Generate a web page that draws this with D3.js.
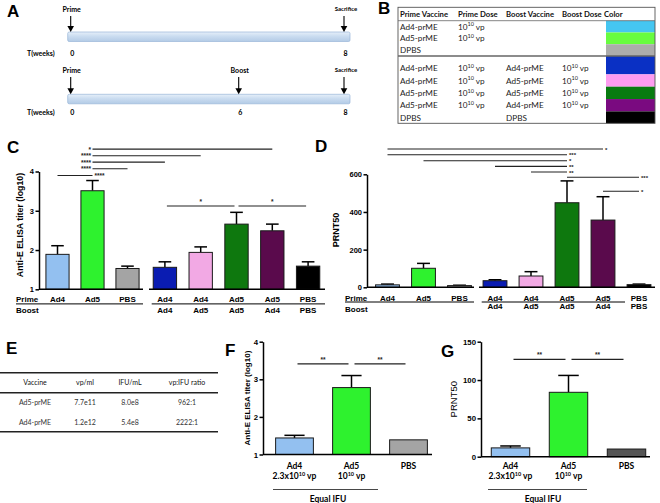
<!DOCTYPE html>
<html><head><meta charset="utf-8">
<script src="https://cdn.jsdelivr.net/npm/d3@7"></script>
<style>body{margin:0;background:#fff} svg{display:block}</style>
</head><body>
<svg id="fig" width="660" height="503"></svg>
<script>
// ================= DATA =================
// Panel A: timelines (weeks)
const weeksA = [0, 6, 8];
const timelinePrime = [{label:"Prime", week:0}, {label:"Sacrifice", week:8}];
const timelineBoost = [{label:"Prime", week:0}, {label:"Boost", week:6}, {label:"Sacrifice", week:8}];
const ticksPrime = [0, 8];
const ticksBoost = [0, 6, 8];

// Panel B: table of groups
const tableBHeader = ["Prime Vaccine", "Prime Dose", "Boost Vaccine", "Boost Dose", "Color"];
const tableBPrimeVac = ["Ad4-prME", "Ad5-prME", "DPBS", "Ad4-prME", "Ad4-prME", "Ad5-prME", "Ad5-prME", "DPBS"];
const tableBPrimeDose = ["10^10 vp", "10^10 vp", "", "10^10 vp", "10^10 vp", "10^10 vp", "10^10 vp", ""];
const tableBBoostVac = ["", "", "", "Ad4-prME", "Ad5-prME", "Ad5-prME", "Ad4-prME", "DPBS"];
const tableBBoostDose = ["", "", "", "10^10 vp", "10^10 vp", "10^10 vp", "10^10 vp", ""];
const tableBColors = ["#45c6f1", "#68fc40", "#acacac", "#0a30c4", "#fd9cf0", "#087b10", "#7a0a80", "#000000"];

// Panel C: anti-E ELISA titer (log10)
const primeSingle = ["Ad4", "Ad5", "PBS"];
const elisaSingle = [1.89, 3.51, 1.53];
const elisaSingleSem = [0.22, 0.26, 0.06];
const primePB = ["Ad4", "Ad4", "Ad5", "Ad5", "PBS"];
const boostPB = ["Ad4", "Ad5", "Ad5", "Ad4", "PBS"];
const elisaPB = [1.56, 1.94, 2.66, 2.49, 1.59];
const elisaPBSem = [0.14, 0.14, 0.30, 0.17, 0.11];
const colorsSingle = ["#93c0f0", "#2ef22e", "#a4a4a4"];
const colorsPB = ["#0a1cb2", "#f2a9e4", "#0e780e", "#5a0a4c", "#000000"];
const ticksC = [1, 2, 3, 4];
// significance: [fromBar, toBar, label, level, labelSide]
const sigC = [
  [1, 6, "*", 4.57, "left"],
  [1, 4, "****", 4.40, "left"],
  [1, 3, "****", 4.24, "left"],
  [1, 2, "****", 4.07, "left"],
  [0, 1, "****", 3.90, "right"],
  [3, 5, "*", 3.12, "top"],
  [5, 7, "*", 3.12, "top"]
];

// Panel D: PRNT50
const prntSingle = [13, 101, 9];
const prntSingleSem = [4, 26, 2];
const prntPB = [35, 60, 449, 357, 14];
const prntPBSem = [5, 23, 116, 124, 3];
const ticksD = [0, 200, 400, 600];
const sigD = [
  [0, 6, "*", 734, "right"],
  [0, 5, "***", 704, "right"],
  [1, 5, "*", 672, "right"],
  [3, 5, "**", 642, "right"],
  [4, 5, "**", 612, "right"],
  [5, 7, "***", 584, "right"],
  [6, 7, "*", 510, "right"]
];

// Panel E: vector titers
const tableEHeader = ["Vaccine", "vp/ml", "IFU/mL", "vp:IFU ratio"];
const tableERows = [
  ["Ad5-prME", "7.7e11", "8.0e8", "962:1"],
  ["Ad4-prME", "1.2e12", "5.4e8", "2222:1"]
];

// Panels F & G: equal IFU
const groupsEqual = ["Ad4", "Ad5", "PBS"];
const dosesEqual = ["2.3x10^10 vp", "10^10 vp", ""];
const colorsF = ["#93c0f0", "#2ef22e", "#a4a4a4"];
const colorsG = ["#93c0f0", "#2ef22e", "#555555"];
const elisaEqual = [1.44, 2.78, 1.39];
const elisaEqualSem = [0.07, 0.32, 0];
const prntEqual = [11.5, 84, 10];
const prntEqualSem = [2.5, 22, 0];
const ticksF = [1, 2, 3, 4];
const ticksG = [0, 50, 100, 150];
const sigF = [[0, 1, "**", 3.41, "top"], [1, 2, "**", 3.41, "top"]];
const sigG = [[0, 1, "**", 127, "top"], [1, 2, "**", 127, "top"]];

// ================= DRAWING =================
const svg = d3.select("#fig");
const FA = "'Liberation Sans', Arial, sans-serif";
const FC = "Lato, 'Open Sans', sans-serif";

function txt(x, y, s, o = {}) {
  const t = svg.append("text").attr("x", x).attr("y", y)
    .attr("font-family", o.family || FA)
    .attr("font-size", o.size || 8)
    .attr("font-weight", o.weight || "normal")
    .attr("fill", o.fill || "#000")
    .attr("text-anchor", o.anchor || "start");
  if (o.rotate) t.attr("transform", `rotate(${o.rotate},${x},${y})`);
  if (o.ls) t.attr("letter-spacing", o.ls);
  rich(t, s, o.supSize || (o.size || 8) * 0.7);
  return t;
}
function rich(sel, str, supSize) {
  const parts = str.split(/\^(\d+)/);
  let shifted = false;
  parts.forEach((p, i) => {
    if (p === "") return;
    const t = sel.append("tspan").text(p);
    if (i % 2 === 1) { t.attr("font-size", supSize).attr("dy", -3.2); shifted = true; }
    else if (shifted) { t.attr("dy", 3.2); shifted = false; }
  });
}
function line(x1, y1, x2, y2, w = 1, c = "#000") {
  return svg.append("line").attr("x1", x1).attr("y1", y1).attr("x2", x2).attr("y2", y2)
    .attr("stroke", c).attr("stroke-width", w);
}

// ---- panel letters
[["A", 7, 17], ["B", 378, 14], ["C", 7, 153], ["D", 315, 152], ["E", 6, 354], ["F", 225, 356], ["G", 441, 357]]
  .forEach(([l, x, y]) => txt(x, y, l, {size: 17, weight: "bold"}));

// ---- Panel A
const defs = svg.append("defs");
const grad = defs.append("linearGradient").attr("id", "tlGrad").attr("x1", 0).attr("x2", 0).attr("y1", 0).attr("y2", 1);
grad.append("stop").attr("offset", "0%").attr("stop-color", "#e6eff9");
grad.append("stop").attr("offset", "45%").attr("stop-color", "#cadcf0");
grad.append("stop").attr("offset", "100%").attr("stop-color", "#b3cbe6");
const xA = d3.scaleLinear().domain(weeksA).range([70.7, 238.7, 344]);

function timeline(events, ticks, yLab, yBar, yWeeks) {
  svg.append("rect").attr("x", xA(0) - 3).attr("y", yBar).attr("width", xA(8) + 6 - (xA(0) - 3)).attr("height", 9.5)
    .attr("fill", "url(#tlGrad)").attr("stroke", "#9ab6d8").attr("stroke-width", 0.7).attr("rx", 1.5);
  events.forEach(e => {
    const x = xA(e.week);
    const sac = e.label === "Sacrifice";
    txt(x + (sac ? 2 : 1), yLab + (sac ? 0 : 1), e.label, {family: FC, size: sac ? 6 : 7, weight: "bold", anchor: "middle"});
    const y0 = yLab + 5, y1 = yBar;
    line(x, y0, x, y1 - 5, 1.1);
    svg.append("path").attr("d", `M${x - 3.3},${y1 - 6}L${x + 3.3},${y1 - 6}L${x},${y1}Z`).attr("fill", "#000");
  });
  txt(27, yWeeks + 2.5, "T(weeks)", {family: FC, size: 7, weight: "bold"});
  ticks.forEach(w => txt(xA(w) + 1.5, yWeeks + 2.5, String(w), {family: FC, size: 7, weight: "bold", anchor: "middle"}));
}
timeline(timelinePrime, ticksPrime, 11, 32, 53);
timeline(timelineBoost, ticksBoost, 72, 94.3, 112);

// ---- Panel B
(function () {
  const L = 398, R = 655, T = 7.3, B = 123.3, colX = [400, 458, 506, 562], colorX = 606;
  const hdrBottom = 20.7, sep = 56;
  const g1H = (sep - hdrBottom) / 3;
  const rowsTop = [], rowsBot = [], textY = [];
  for (let i = 0; i < 3; i++) { rowsTop.push(hdrBottom + i * g1H); rowsBot.push(hdrBottom + (i + 1) * g1H); textY.push(hdrBottom + (i + 0.5) * g1H); }
  const g2Start = 62, g2H = 12.35;
  for (let i = 0; i < 5; i++) { rowsTop.push(i === 0 ? sep : g2Start + i * g2H); rowsBot.push(i === 4 ? B : g2Start + (i + 1) * g2H); textY.push(g2Start + (i + 0.5) * g2H); }
  tableBColors.forEach((c, i) => svg.append("rect").attr("x", colorX).attr("y", rowsTop[i]).attr("width", R - colorX).attr("height", rowsBot[i] - rowsTop[i]).attr("fill", c));
  svg.append("rect").attr("x", L).attr("y", T).attr("width", R - L).attr("height", B - T).attr("fill", "none").attr("stroke", "#555").attr("stroke-width", 0.9);
  line(L, hdrBottom, R, hdrBottom, 0.8, "#666");
  line(L, sep, R, sep, 1.6, "#666");
  tableBHeader.forEach((h, i) => txt(i < 4 ? colX[i] : 604, 17.3, h, {family: FC, size: 7.7, weight: "bold", fill: "#111"}));
  const cols = [tableBPrimeVac, tableBPrimeDose, tableBBoostVac, tableBBoostDose];
  cols.forEach((col, c) => col.forEach((v, r) => { if (v) txt(colX[c], textY[r] + 3, v, {family: FC, size: 8.2, fill: "#222", supSize: 5.5}); }));
})();

// ---- generic bar chart helpers
function band(n, r, pad) {
  return d3.scaleBand().domain(d3.range(n)).range(r).paddingInner(pad).paddingOuter(pad / 2);
}
function drawBars(xs, y, vals, sems, cols, capFrac = 0.52) {
  const base = y(y.domain()[0]);
  const g = svg.append("g");
  vals.forEach((v, i) => {
    const cx = xs(i) + xs.bandwidth() / 2;
    if (sems[i]) {
      const top = y(v + sems[i]), w = xs.bandwidth() * capFrac / 2;
      g.append("line").attr("x1", cx).attr("x2", cx).attr("y1", y(v)).attr("y2", top).attr("stroke", "#000").attr("stroke-width", 1.5);
      g.append("line").attr("x1", cx - w).attr("x2", cx + w).attr("y1", top).attr("y2", top).attr("stroke", "#000").attr("stroke-width", 1.5);
    }
  });
  g.selectAll("rect.bar").data(vals).join("rect").attr("class", "bar")
    .attr("x", (d, i) => xs(i) + 0.5).attr("width", xs.bandwidth() - 1)
    .attr("y", d => y(d)).attr("height", d => base - y(d))
    .attr("fill", (d, i) => cols[i]).attr("stroke", "#1a1a1a").attr("stroke-width", 1);
}
function yAxis(x, y, ticks, size = 7.5) {
  const g = svg.append("g").attr("transform", `translate(${x},0)`)
    .call(d3.axisLeft(y).tickValues(ticks).tickFormat(d3.format("d")).tickSize(3.5).tickPadding(1.5).tickSizeOuter(0));
  g.select(".domain").attr("stroke", "#000").attr("stroke-width", 1.5);
  g.selectAll(".tick line").attr("stroke", "#000").attr("stroke-width", 1.5);
  g.selectAll(".tick text").attr("font-family", FA).attr("font-weight", "bold").attr("font-size", size).attr("fill", "#000");
}
function baseline(y, x1, x2) { line(x1, y.range()[0], x2, y.range()[0], 1.5); }
function sig(list, xc, y, size = 7.5, inset = 0) {
  list.forEach(([a, b, lab, lv, side]) => {
    const ins = side === "top" ? inset : 0;
    const x1 = xc(a) + ins, x2 = xc(b) - ins, yy = y(lv);
    line(x1, yy, x2, yy, 1.1, "#222");
    if (side === "left") txt(x1 - 1.5, yy + 2.6, lab, {size, weight: "bold", anchor: "end", fill: "#222"});
    else if (side === "right") txt(x2 + 2, yy + 2.6, lab, {size, weight: "bold", fill: "#222"});
    else txt((x1 + x2) / 2, yy - 2, lab, {size, weight: "bold", anchor: "middle", fill: "#222"});
  });
}
function center(xs1, xs2, n1) { return i => i < n1 ? xs1(i) + xs1.bandwidth() / 2 : xs2(i - n1) + xs2.bandwidth() / 2; }

// ---- Panel C
const yC = d3.scaleLinear().domain([1, 4]).range([289.3, 171.5]);
const xC1 = band(3, [40, 145], 0.31), xC2 = band(5, [147, 326], 0.32);
drawBars(xC1, yC, elisaSingle, elisaSingleSem, colorsSingle);
drawBars(xC2, yC, elisaPB, elisaPBSem, colorsPB);
yAxis(39, yC, ticksC);
baseline(yC, 39, 143); baseline(yC, 149, 325);
sig(sigC, center(xC1, xC2, 3), yC, 6.5, 2);
txt(22.5, 225, "Anti-E ELISA titer (log10)", {size: 8.8, weight: "bold", anchor: "middle", rotate: -90});
txt(16, 302, "Prime", {size: 8, weight: "bold"});
txt(16, 312.5, "Boost", {size: 8, weight: "bold"});
primeSingle.forEach((l, i) => txt(xC1(i) + xC1.bandwidth() / 2, 302, l, {size: 8, weight: "bold", anchor: "middle"}));
primePB.forEach((l, i) => txt(xC2(i) + xC2.bandwidth() / 2, 302, l, {size: 8, weight: "bold", anchor: "middle"}));
boostPB.forEach((l, i) => txt(xC2(i) + xC2.bandwidth() / 2, 312.5, l, {size: 8, weight: "bold", anchor: "middle"}));
line(16, 303.9, 143, 303.9, 1); line(151.7, 303.9, 325, 303.9, 1);

// ---- Panel D
const yD = d3.scaleLinear().domain([0, 600]).range([287.3, 174.3]);
const xD1 = band(3, [369.5, 477.5], 0.31), xD2 = band(5, [477, 657], 0.31);
drawBars(xD1, yD, prntSingle, prntSingleSem, colorsSingle);
drawBars(xD2, yD, prntPB, prntPBSem, colorsPB);
yAxis(367, yD, ticksD);
baseline(yD, 367, 474); baseline(yD, 479, 655);
sig(sigD, center(xD1, xD2, 3), yD, 6, 0);
txt(338.5, 230, "PRNT50", {size: 9, weight: "bold", anchor: "middle", rotate: -90});
txt(345, 300.5, "Prime", {size: 8, weight: "bold"});
txt(345, 312, "Boost", {size: 8, weight: "bold"});
primeSingle.forEach((l, i) => txt(xD1(i) + xD1.bandwidth() / 2, 300.5, l, {size: 8, weight: "bold", anchor: "middle"}));
primePB.forEach((l, i) => txt(xD2(i) + xD2.bandwidth() / 2, 300.5, l, {size: 8, weight: "bold", anchor: "middle"}));
boostPB.forEach((l, i) => txt(xD2(i) + xD2.bandwidth() / 2, 308.6, l, {size: 8, weight: "bold", anchor: "middle"}));
line(345, 302, 474, 302, 1); line(481.7, 302, 625, 302, 1);

// ---- Panel E
(function () {
  const colX = [35, 85, 130, 187];
  line(0, 372.7, 218, 372.7, 1.4, "#222");
  line(0, 392.7, 218, 392.7, 1.4, "#222");
  line(0, 431.7, 218, 431.7, 1.4, "#222");
  tableEHeader.forEach((h, i) => txt(colX[i], 385.2, h, {family: FC, size: 7, fill: "#111", anchor: "middle"}));
  tableERows.forEach((row, r) => row.forEach((v, i) => txt(colX[i], 405.2 + r * 20, v, {family: FC, size: 7, fill: "#333", anchor: "middle"})));
})();

// ---- Panel F & G
function equalPanel(xs, y, vals, sems, cols, ticks, sigs, axisX, baseEnd, ylab, ylabX, ylabOpt, lineX1, lineX2, eqX) {
  drawBars(xs, y, vals, sems, cols);
  yAxis(axisX, y, ticks, 7.8);
  baseline(y, axisX, baseEnd);
  const xc = i => xs(i) + xs.bandwidth() / 2;
  sig(sigs, xc, y, 6.5, 3);
  txt(ylabX, (y.range()[0] + y.range()[1]) / 2, ylab, Object.assign({anchor: "middle", rotate: -90}, ylabOpt));
  groupsEqual.forEach((l, i) => txt(xc(i), 468.5, l, {family: FC, size: 8.5, weight: "bold", anchor: "middle"}));
  dosesEqual.forEach((l, i) => { if (l) txt(xc(i), 479, l, {family: FC, size: 8.5, weight: "bold", anchor: "middle", supSize: 5.5}); });
  line(lineX1, 489.5, lineX2, 489.5, 0.9, "#333");
  txt(eqX, 501.5, "Equal IFU", {family: FC, size: 8.5, weight: "bold", anchor: "middle"});
}
const yF = d3.scaleLinear().domain([1, 4]).range([454.5, 341.7]);
const xF = band(3, [266, 437], 0.32);
equalPanel(xF, yF, elisaEqual, elisaEqualSem, colorsF, ticksF, sigF, 263, 432,
  "Anti-E ELISA titer (log10)", 250, {size: 8, weight: "bold"}, 273, 378, 328);
const yG = d3.scaleLinear().domain([0, 150]).range([456.7, 341.7]);
const xG = band(3, [481.5, 655.5], 0.32);
equalPanel(xG, yG, prntEqual, prntEqualSem, colorsG, ticksG, sigG, 481, 650,
  "PRNT50", 457, {size: 9.5}, 488, 587, 543);
</script>
</body></html>
